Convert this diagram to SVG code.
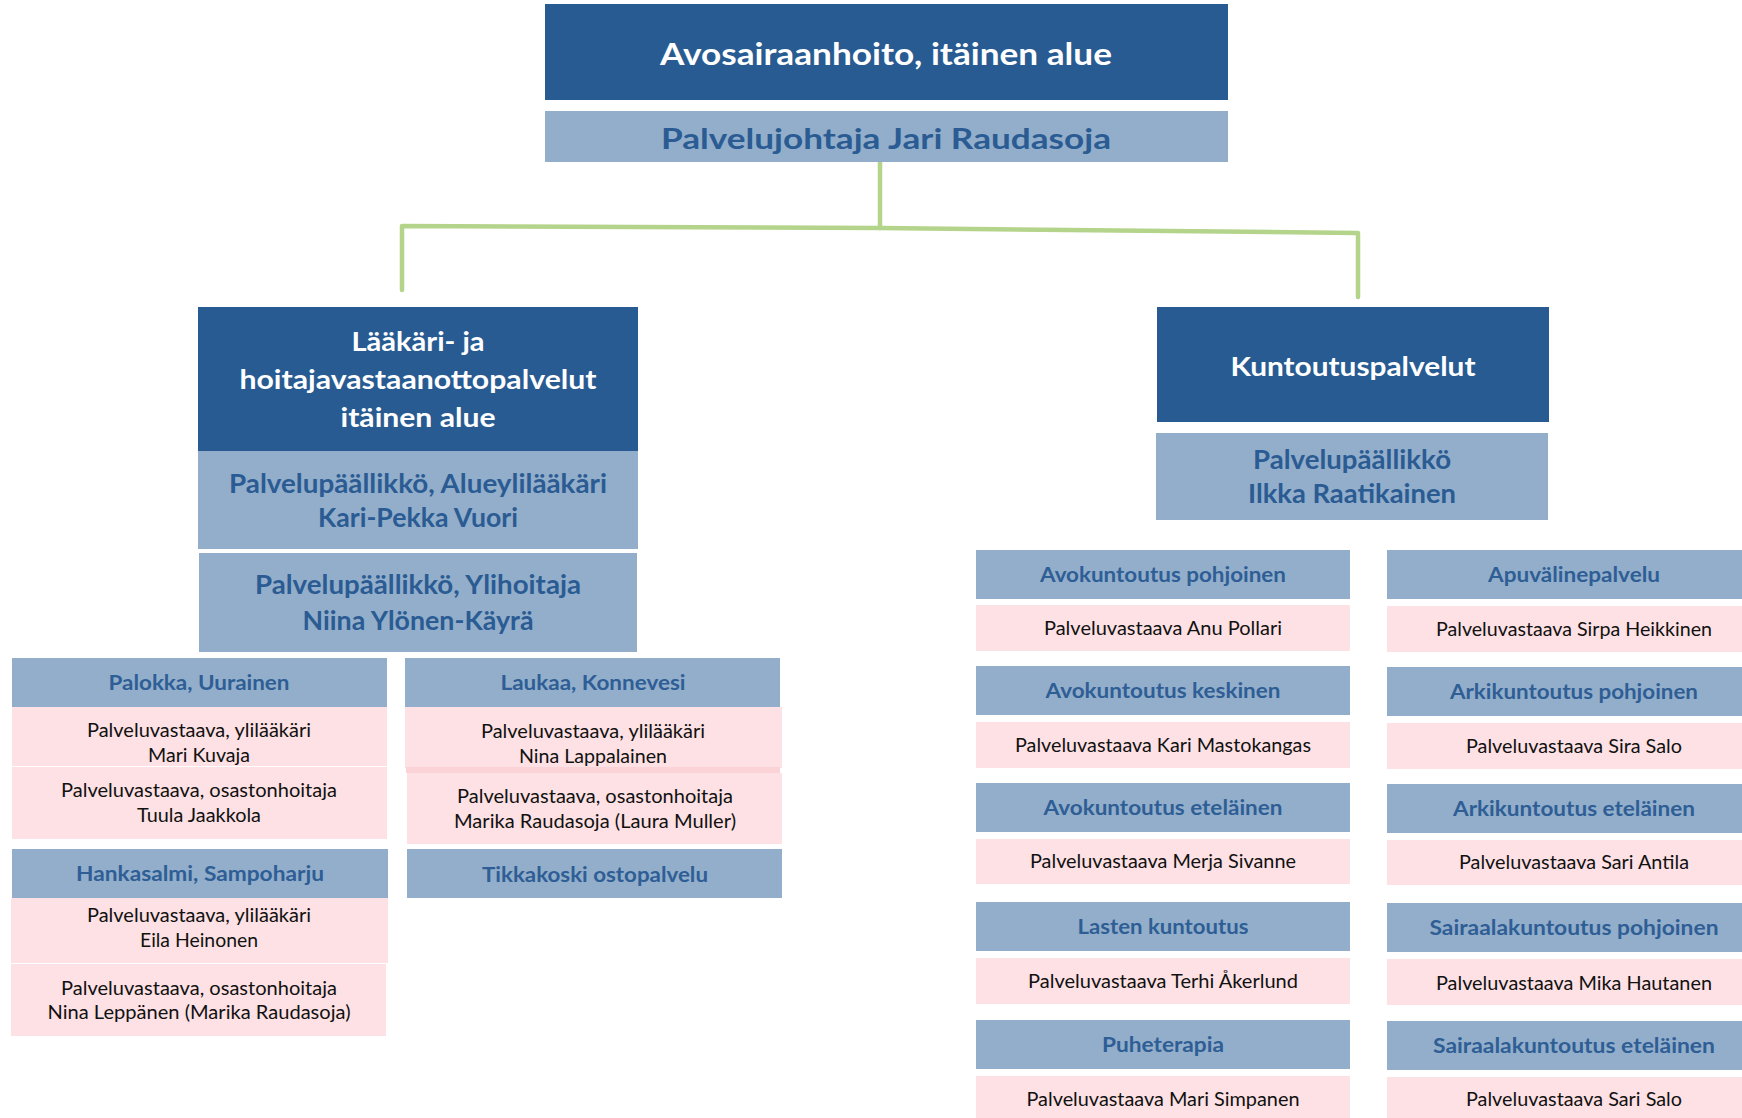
<svg xmlns="http://www.w3.org/2000/svg" width="1742" height="1118" viewBox="0 0 1742 1118">
<style>
.dk{fill:#275B92}
.lb{fill:#93AECA}
.pk{fill:#FDE1E4}
.pk2{fill:#FBD3D7}
text{font-family:Lato,"Liberation Sans",sans-serif;text-anchor:middle}
.tw{fill:#FFFFFF;font-weight:bold;font-size:27px}
.tt{fill:#FFFFFF;font-weight:bold;font-size:30px}
.tb{fill:#2A5B93;font-weight:bold;font-size:27px}
.tb2{fill:#2A5B93;font-weight:bold;font-size:29px}
.th{fill:#2E5E95;font-weight:bold;font-size:21px}
.tp{fill:#111111;font-size:18.5px}
.conn{fill:none;stroke:#B3D48A;stroke-width:4.5;stroke-linecap:round;stroke-linejoin:round}
</style>
<rect width="1742" height="1118" fill="#FFFFFF"/>
<g id="connectors">
<polyline class="conn" points="880,162 880,228"/>
<polyline class="conn" points="402,290 402,226 880,228 1358,233 1358,297"/>
</g>
<g id="top">
<rect class="dk" x="545" y="4" width="683" height="96"/>
<text class="tt" x="886" y="65" textLength="452" lengthAdjust="spacingAndGlyphs">Avosairaanhoito, itäinen alue</text>
</g>
<g id="top-leader">
<rect class="lb" x="545" y="111" width="683" height="51"/>
<text class="tb2" x="886" y="149" textLength="450" lengthAdjust="spacingAndGlyphs">Palvelujohtaja Jari Raudasoja</text>
</g>
<g id="laakari">
<rect class="dk" x="198" y="307" width="440" height="144"/>
<text class="tw" x="418" y="351" textLength="133" lengthAdjust="spacingAndGlyphs">Lääkäri- ja</text>
<text class="tw" x="418" y="389" textLength="357" lengthAdjust="spacingAndGlyphs">hoitajavastaanottopalvelut</text>
<text class="tw" x="418" y="427" textLength="155" lengthAdjust="spacingAndGlyphs">itäinen alue</text>
</g>
<g id="laakari-leader1">
<rect class="lb" x="198" y="451" width="440" height="98"/>
<text class="tb" x="418" y="493" textLength="378" lengthAdjust="spacingAndGlyphs">Palvelupäällikkö, Alueylilääkäri</text>
<text class="tb" x="418" y="527" textLength="200" lengthAdjust="spacingAndGlyphs">Kari-Pekka Vuori</text>
</g>
<g id="laakari-leader2">
<rect class="lb" x="199" y="553" width="438" height="99"/>
<text class="tb" x="418" y="594" textLength="326" lengthAdjust="spacingAndGlyphs">Palvelupäällikkö, Ylihoitaja</text>
<text class="tb" x="418" y="630" textLength="231" lengthAdjust="spacingAndGlyphs">Niina Ylönen-Käyrä</text>
</g>
<g id="palokka">
<rect class="lb" x="12" y="658" width="375" height="49"/>
<text class="th" x="199" y="690" textLength="181" lengthAdjust="spacingAndGlyphs">Palokka, Uurainen</text>
<rect class="pk" x="12" y="707" width="375" height="59"/>
<text class="tp" x="199" y="737" textLength="224" lengthAdjust="spacingAndGlyphs">Palveluvastaava, ylilääkäri</text>
<text class="tp" x="199" y="762" textLength="102" lengthAdjust="spacingAndGlyphs">Mari Kuvaja</text>
<rect class="pk" x="12" y="767" width="375" height="72"/>
<text class="tp" x="199" y="797" textLength="276" lengthAdjust="spacingAndGlyphs">Palveluvastaava, osastonhoitaja</text>
<text class="tp" x="199" y="822" textLength="124" lengthAdjust="spacingAndGlyphs">Tuula Jaakkola</text>
</g>
<g id="laukaa">
<rect class="lb" x="405" y="658" width="375" height="49"/>
<text class="th" x="593" y="690" textLength="185" lengthAdjust="spacingAndGlyphs">Laukaa, Konnevesi</text>
<rect class="pk" x="405" y="707" width="377" height="61"/>
<text class="tp" x="593" y="738" textLength="224" lengthAdjust="spacingAndGlyphs">Palveluvastaava, ylilääkäri</text>
<text class="tp" x="593" y="763" textLength="148" lengthAdjust="spacingAndGlyphs">Nina Lappalainen</text>
<rect class="pk2" x="406" y="767" width="374" height="6"/>
<rect class="pk" x="407" y="773" width="375" height="71"/>
<text class="tp" x="595" y="803" textLength="276" lengthAdjust="spacingAndGlyphs">Palveluvastaava, osastonhoitaja</text>
<text class="tp" x="595" y="828" textLength="282" lengthAdjust="spacingAndGlyphs">Marika Raudasoja (Laura Muller)</text>
</g>
<g id="hankasalmi">
<rect class="lb" x="12" y="849" width="376" height="49"/>
<text class="th" x="200" y="881" textLength="248" lengthAdjust="spacingAndGlyphs">Hankasalmi, Sampoharju</text>
<rect class="pk" x="11" y="898" width="377" height="65"/>
<text class="tp" x="199" y="922" textLength="224" lengthAdjust="spacingAndGlyphs">Palveluvastaava, ylilääkäri</text>
<text class="tp" x="199" y="947" textLength="118" lengthAdjust="spacingAndGlyphs">Eila Heinonen</text>
<rect class="pk" x="11" y="964" width="375" height="72"/>
<text class="tp" x="199" y="995" textLength="276" lengthAdjust="spacingAndGlyphs">Palveluvastaava, osastonhoitaja</text>
<text class="tp" x="199" y="1019" textLength="303" lengthAdjust="spacingAndGlyphs">Nina Leppänen (Marika Raudasoja)</text>
</g>
<g id="tikkakoski">
<rect class="lb" x="407" y="849" width="375" height="49"/>
<text class="th" x="595" y="882" textLength="226" lengthAdjust="spacingAndGlyphs">Tikkakoski ostopalvelu</text>
</g>
<g id="kuntoutus">
<rect class="dk" x="1157" y="307" width="392" height="115"/>
<text class="tw" x="1353" y="376" textLength="245" lengthAdjust="spacingAndGlyphs">Kuntoutuspalvelut</text>
</g>
<g id="kuntoutus-leader">
<rect class="lb" x="1156" y="433" width="392" height="87"/>
<text class="tb" x="1352" y="469" textLength="198" lengthAdjust="spacingAndGlyphs">Palvelupäällikkö</text>
<text class="tb" x="1352" y="503" textLength="208" lengthAdjust="spacingAndGlyphs">Ilkka Raatikainen</text>
</g>
<g id="avo-pohjoinen">
<rect class="lb" x="976" y="550" width="374" height="49"/>
<text class="th" x="1163" y="582" textLength="246" lengthAdjust="spacingAndGlyphs">Avokuntoutus pohjoinen</text>
<rect class="pk" x="976" y="605" width="374" height="46"/>
<text class="tp" x="1163" y="635" textLength="238" lengthAdjust="spacingAndGlyphs">Palveluvastaava Anu Pollari</text>
</g>
<g id="avo-keskinen">
<rect class="lb" x="976" y="666" width="374" height="49"/>
<text class="th" x="1163" y="698" textLength="235" lengthAdjust="spacingAndGlyphs">Avokuntoutus keskinen</text>
<rect class="pk" x="976" y="722" width="374" height="46"/>
<text class="tp" x="1163" y="752" textLength="296" lengthAdjust="spacingAndGlyphs">Palveluvastaava Kari Mastokangas</text>
</g>
<g id="avo-etelainen">
<rect class="lb" x="976" y="783" width="374" height="49"/>
<text class="th" x="1163" y="815" textLength="239" lengthAdjust="spacingAndGlyphs">Avokuntoutus eteläinen</text>
<rect class="pk" x="976" y="839" width="374" height="45"/>
<text class="tp" x="1163" y="868" textLength="266" lengthAdjust="spacingAndGlyphs">Palveluvastaava Merja Sivanne</text>
</g>
<g id="lasten">
<rect class="lb" x="976" y="902" width="374" height="49"/>
<text class="th" x="1163" y="934" textLength="171" lengthAdjust="spacingAndGlyphs">Lasten kuntoutus</text>
<rect class="pk" x="976" y="958" width="374" height="46"/>
<text class="tp" x="1163" y="988" textLength="270" lengthAdjust="spacingAndGlyphs">Palveluvastaava Terhi Åkerlund</text>
</g>
<g id="puheterapia">
<rect class="lb" x="976" y="1020" width="374" height="49"/>
<text class="th" x="1163" y="1052" textLength="122" lengthAdjust="spacingAndGlyphs">Puheterapia</text>
<rect class="pk" x="976" y="1076" width="374" height="50"/>
<text class="tp" x="1163" y="1106" textLength="273" lengthAdjust="spacingAndGlyphs">Palveluvastaava Mari Simpanen</text>
</g>
<g id="apuvaline">
<rect class="lb" x="1387" y="550" width="375" height="49"/>
<text class="th" x="1574" y="582" textLength="172" lengthAdjust="spacingAndGlyphs">Apuvälinepalvelu</text>
<rect class="pk" x="1387" y="606" width="375" height="46"/>
<text class="tp" x="1574" y="636" textLength="276" lengthAdjust="spacingAndGlyphs">Palveluvastaava Sirpa Heikkinen</text>
</g>
<g id="arki-pohjoinen">
<rect class="lb" x="1387" y="667" width="375" height="49"/>
<text class="th" x="1574" y="699" textLength="248" lengthAdjust="spacingAndGlyphs">Arkikuntoutus pohjoinen</text>
<rect class="pk" x="1387" y="723" width="375" height="46"/>
<text class="tp" x="1574" y="753" textLength="216" lengthAdjust="spacingAndGlyphs">Palveluvastaava Sira Salo</text>
</g>
<g id="arki-etelainen">
<rect class="lb" x="1387" y="784" width="375" height="49"/>
<text class="th" x="1574" y="816" textLength="242" lengthAdjust="spacingAndGlyphs">Arkikuntoutus eteläinen</text>
<rect class="pk" x="1387" y="840" width="375" height="45"/>
<text class="tp" x="1574" y="869" textLength="230" lengthAdjust="spacingAndGlyphs">Palveluvastaava Sari Antila</text>
</g>
<g id="sairaala-pohjoinen">
<rect class="lb" x="1387" y="903" width="375" height="49"/>
<text class="th" x="1574" y="935" textLength="289" lengthAdjust="spacingAndGlyphs">Sairaalakuntoutus pohjoinen</text>
<rect class="pk" x="1387" y="959" width="375" height="46"/>
<text class="tp" x="1574" y="990" textLength="276" lengthAdjust="spacingAndGlyphs">Palveluvastaava Mika Hautanen</text>
</g>
<g id="sairaala-etelainen">
<rect class="lb" x="1387" y="1021" width="375" height="49"/>
<text class="th" x="1574" y="1053" textLength="282" lengthAdjust="spacingAndGlyphs">Sairaalakuntoutus eteläinen</text>
<rect class="pk" x="1387" y="1077" width="375" height="50"/>
<text class="tp" x="1574" y="1106" textLength="216" lengthAdjust="spacingAndGlyphs">Palveluvastaava Sari Salo</text>
</g>
</svg>
